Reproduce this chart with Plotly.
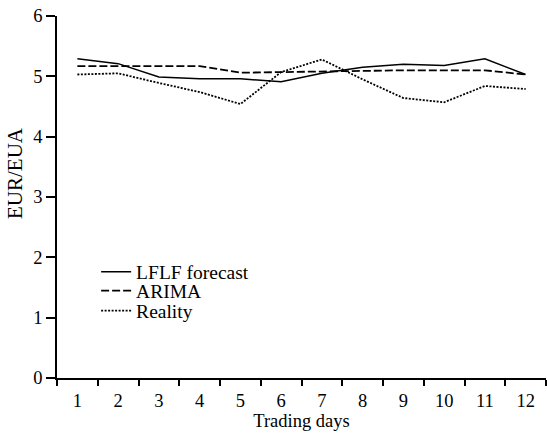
import plotly.graph_objects as go

days = list(range(1, 13))
day_labels = [str(d) for d in days]
lflf = [5.29, 5.21, 4.99, 4.96, 4.96, 4.91, 5.05, 5.15, 5.20, 5.18, 5.29, 5.03]
arima = [5.17, 5.17, 5.17, 5.17, 5.06, 5.07, 5.09, 5.10, 5.10, 5.10, 5.10, 5.03]
reality = [5.03, 5.05, 4.89, 4.74, 4.54, 5.07, 5.28, 4.95, 4.64, 4.57, 4.84, 4.79]
y_ticks = [0, 1, 2, 3, 4, 5, 6]

FONT = "Times New Roman, Liberation Serif, serif"

fig = go.Figure()
fig.add_trace(go.Scatter(x=days, y=lflf, mode="lines", name="LFLF forecast", legend="legend",
                         line=dict(color="black", width=1.5, dash="solid")))
fig.add_trace(go.Scatter(x=days, y=arima, mode="lines", name="ARIMA", legend="legend2",
                         line=dict(color="black", width=1.8, dash="8px,3px")))
fig.add_trace(go.Scatter(x=days, y=reality, mode="lines", name="Reality", legend="legend3",
                         line=dict(color="black", width=1.8, dash="2px,1.5px")))

leg = dict(x=0.08, xanchor="left", yanchor="middle", bgcolor="rgba(0,0,0,0)",
           font=dict(family=FONT, size=19.5, color="black"), itemwidth=30)
fig.update_layout(
    width=547, height=433,
    margin=dict(l=57, r=1, t=16, b=55),
    paper_bgcolor="white", plot_bgcolor="white",
    font=dict(family=FONT, size=18.5, color="black"),
    showlegend=True,
    legend=dict(leg, y=(378 - 272) / 362),
    legend2=dict(leg, y=(378 - 291) / 362),
    legend3=dict(leg, y=(378 - 311) / 362),
    annotations=[dict(text="EUR/EUA", textangle=-90, xref="paper", yref="paper",
                      x=(15 - 57) / 489, y=(378 - 173) / 362, xanchor="center", yanchor="middle",
                      showarrow=False, font=dict(family=FONT, size=21, color="black"))],
)
fig.update_xaxes(
    range=[0.5, 12.5], tickvals=days, ticktext=day_labels, ticks="",
    tickfont=dict(family=FONT, size=18.5, color="black"), ticklabelstandoff=5,
    showline=True, linecolor="black", linewidth=1.5, showgrid=False, zeroline=False,
    minor=dict(ticks="outside", tick0=0.5, dtick=1, ticklen=6, tickwidth=1.5, tickcolor="black", showgrid=False),
    title=dict(text="Trading days", standoff=3, font=dict(family=FONT, size=18.5, color="black")),
)
fig.update_yaxes(
    range=[0, 6], tickvals=y_ticks, ticks="outside", ticklen=9, tickwidth=1.5, tickcolor="black",
    tickfont=dict(family=FONT, size=18.5, color="black"),
    showline=True, linecolor="black", linewidth=1.5, showgrid=False, zeroline=False,
)

fig.write_html("out.html")
